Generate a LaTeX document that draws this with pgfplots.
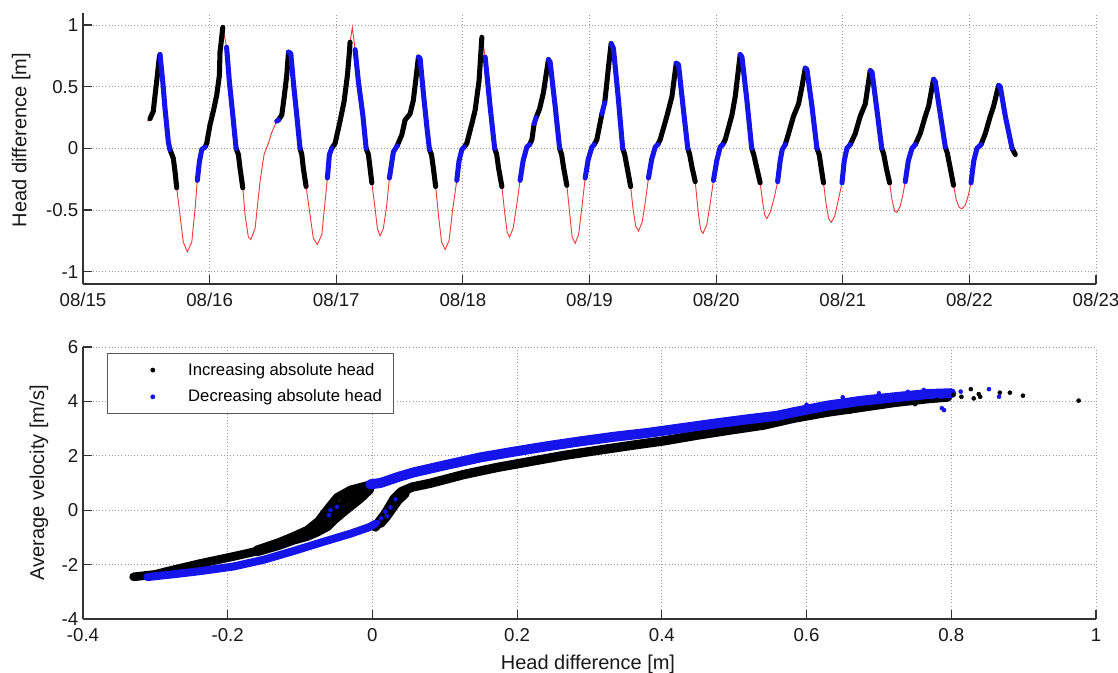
\documentclass[border=0pt]{standalone}
\usepackage{fontspec}
\setmainfont{Liberation Sans}
\usepackage{pgfplots}
\usepackage{pgfplotstable}
\pgfplotsset{compat=1.18}
\definecolor{mblue}{RGB}{20,20,235}
\definecolor{mred}{RGB}{240,60,60}

\pgfplotstableread{
t h c
15.508 0.22 0
15.529 0.24 0
15.529 0.24 1
15.555 0.30 1
15.569 0.43 1
15.587 0.59 1
15.603 0.74 1
15.608 0.76 1
15.608 0.76 2
15.630 0.54 2
15.648 0.32 2
15.674 0.05 2
15.687 -0.01 2
15.687 -0.01 1
15.713 -0.08 1
15.727 -0.19 1
15.740 -0.32 1
15.740 -0.32 0
15.766 -0.54 0
15.792 -0.76 0
15.824 -0.84 0
15.859 -0.76 0
15.885 -0.49 0
15.903 -0.26 0
15.903 -0.26 2
15.919 -0.11 2
15.938 -0.01 2
15.964 0.01 2
15.964 0.01 1
15.977 0.04 1
16.003 0.19 1
16.029 0.30 1
16.056 0.43 1
16.077 0.59 1
16.082 0.78 1
16.090 0.85 1
16.104 0.98 1
16.104 0.98 0
16.134 0.82 0
16.134 0.82 2
16.156 0.54 2
16.183 0.27 2
16.209 0.00 2
16.209 0.00 1
16.227 -0.05 1
16.240 -0.16 1
16.262 -0.32 1
16.262 -0.32 0
16.280 -0.54 0
16.306 -0.72 0
16.325 -0.74 0
16.359 -0.65 0
16.398 -0.27 0
16.430 -0.05 0
16.464 0.04 0
16.491 0.13 0
16.530 0.22 0
16.530 0.22 2
16.544 0.23 2
16.544 0.23 1
16.570 0.27 1
16.588 0.41 1
16.609 0.59 1
16.623 0.78 1
16.623 0.78 2
16.641 0.77 2
16.661 0.54 2
16.688 0.27 2
16.714 0.00 2
16.714 0.00 1
16.728 -0.05 1
16.740 -0.16 1
16.762 -0.31 1
16.762 -0.31 0
16.793 -0.54 0
16.819 -0.73 0
16.851 -0.78 0
16.886 -0.70 0
16.912 -0.43 0
16.930 -0.24 0
16.930 -0.24 2
16.946 -0.05 2
16.965 0.00 2
16.965 0.00 1
16.991 0.04 1
17.030 0.22 1
17.062 0.38 1
17.088 0.59 1
17.104 0.78 1
17.109 0.86 1
17.109 0.86 0
17.127 0.98 0
17.149 0.80 0
17.149 0.80 2
17.175 0.54 2
17.210 0.27 2
17.236 0.00 2
17.236 0.00 1
17.254 -0.05 1
17.267 -0.16 1
17.281 -0.28 1
17.281 -0.28 0
17.307 -0.49 0
17.325 -0.65 0
17.346 -0.71 0
17.372 -0.65 0
17.399 -0.46 0
17.420 -0.24 0
17.420 -0.24 2
17.451 -0.03 2
17.481 0.02 2
17.481 0.02 1
17.518 0.11 1
17.544 0.23 1
17.583 0.28 1
17.609 0.39 1
17.631 0.58 1
17.649 0.74 1
17.649 0.74 2
17.662 0.73 2
17.688 0.45 2
17.715 0.18 2
17.736 -0.01 2
17.736 -0.01 1
17.752 -0.05 1
17.767 -0.16 1
17.785 -0.31 1
17.785 -0.31 0
17.808 -0.55 0
17.832 -0.76 0
17.860 -0.82 0
17.891 -0.75 0
17.919 -0.50 0
17.952 -0.26 0
17.952 -0.26 2
17.970 -0.10 2
17.992 -0.01 2
18.010 0.01 2
18.010 0.01 1
18.031 0.04 1
18.071 0.20 1
18.097 0.31 1
18.128 0.55 1
18.150 0.90 1
18.150 0.90 0
18.164 0.82 0
18.176 0.74 0
18.176 0.74 2
18.215 0.34 2
18.251 0.00 2
18.251 0.00 1
18.267 -0.05 1
18.282 -0.16 1
18.308 -0.31 1
18.308 -0.31 0
18.330 -0.52 0
18.350 -0.68 0
18.368 -0.72 0
18.397 -0.65 0
18.425 -0.46 0
18.452 -0.26 0
18.452 -0.26 2
18.476 -0.10 2
18.505 0.01 2
18.527 0.03 2
18.527 0.03 1
18.545 0.07 1
18.563 0.20 1
18.563 0.20 2
18.579 0.25 2
18.579 0.25 1
18.606 0.32 1
18.636 0.45 1
18.658 0.60 1
18.676 0.72 1
18.676 0.72 2
18.689 0.70 2
18.729 0.34 2
18.764 0.00 2
18.764 0.00 1
18.780 -0.05 1
18.796 -0.16 1
18.821 -0.30 1
18.821 -0.30 0
18.843 -0.52 0
18.863 -0.72 0
18.887 -0.77 0
18.914 -0.70 0
18.942 -0.46 0
18.966 -0.24 0
18.966 -0.24 2
18.990 -0.09 2
19.019 0.01 2
19.037 0.03 2
19.037 0.03 1
19.058 0.07 1
19.098 0.28 1
19.098 0.28 2
19.120 0.37 2
19.120 0.37 1
19.136 0.52 1
19.150 0.66 1
19.171 0.85 1
19.171 0.85 2
19.189 0.81 2
19.229 0.39 2
19.262 0.00 2
19.262 0.00 1
19.278 -0.05 1
19.298 -0.16 1
19.325 -0.31 1
19.325 -0.31 0
19.345 -0.50 0
19.365 -0.63 0
19.387 -0.67 0
19.416 -0.60 0
19.440 -0.44 0
19.466 -0.24 0
19.466 -0.24 2
19.491 -0.09 2
19.519 0.01 2
19.539 0.03 2
19.539 0.03 1
19.558 0.07 1
19.611 0.26 1
19.651 0.42 1
19.685 0.69 1
19.685 0.69 2
19.703 0.68 2
19.742 0.31 2
19.776 0.00 2
19.776 0.00 1
19.791 -0.05 1
19.811 -0.16 1
19.835 -0.27 1
19.835 -0.27 0
19.859 -0.52 0
19.878 -0.66 0
19.896 -0.69 0
19.926 -0.62 0
19.953 -0.45 0
19.979 -0.26 0
19.979 -0.26 2
20.005 -0.10 2
20.032 0.01 2
20.052 0.03 2
20.052 0.03 1
20.072 0.07 1
20.125 0.27 1
20.151 0.42 1
20.190 0.76 1
20.190 0.76 2
20.204 0.74 2
20.243 0.39 2
20.281 0.00 2
20.281 0.00 1
20.297 -0.05 1
20.321 -0.16 1
20.348 -0.28 1
20.348 -0.28 0
20.368 -0.44 0
20.384 -0.54 0
20.401 -0.57 0
20.427 -0.52 0
20.459 -0.40 0
20.486 -0.27 0
20.486 -0.27 2
20.506 -0.10 2
20.522 -0.01 2
20.546 0.03 2
20.546 0.03 1
20.572 0.12 1
20.611 0.26 1
20.651 0.36 1
20.678 0.50 1
20.704 0.65 1
20.704 0.65 2
20.717 0.64 2
20.757 0.34 2
20.796 0.00 2
20.796 0.00 1
20.814 -0.05 1
20.830 -0.16 1
20.848 -0.28 1
20.848 -0.28 0
20.870 -0.46 0
20.889 -0.57 0
20.909 -0.60 0
20.937 -0.55 0
20.965 -0.42 0
20.994 -0.28 0
20.994 -0.28 2
21.012 -0.10 2
21.033 0.00 2
21.059 0.03 2
21.059 0.03 1
21.099 0.12 1
21.138 0.26 1
21.178 0.36 1
21.217 0.63 1
21.217 0.63 2
21.231 0.62 2
21.270 0.31 2
21.308 0.00 2
21.308 0.00 1
21.324 -0.05 1
21.344 -0.16 1
21.370 -0.28 1
21.370 -0.28 0
21.391 -0.43 0
21.411 -0.51 0
21.428 -0.52 0
21.454 -0.47 0
21.474 -0.38 0
21.494 -0.27 0
21.494 -0.27 2
21.518 -0.10 2
21.547 0.00 2
21.573 0.03 2
21.573 0.03 1
21.612 0.12 1
21.652 0.26 1
21.678 0.34 1
21.717 0.56 1
21.717 0.56 2
21.731 0.54 2
21.770 0.28 2
21.810 0.01 2
21.810 0.01 1
21.826 -0.04 1
21.849 -0.16 1
21.875 -0.30 1
21.875 -0.30 0
21.897 -0.42 0
21.920 -0.48 0
21.942 -0.49 0
21.968 -0.46 0
21.992 -0.38 0
22.013 -0.28 0
22.013 -0.28 2
22.035 -0.10 2
22.060 0.00 2
22.092 0.03 2
22.092 0.03 1
22.126 0.12 1
22.165 0.26 1
22.191 0.34 1
22.231 0.51 1
22.231 0.51 2
22.244 0.50 2
22.284 0.26 2
22.337 0.00 2
22.337 0.00 1
22.363 -0.05 1
}\ts

\pgfplotsset{
  mystyle/.style={
    scale only axis, width=759.75pt,
    enlargelimits=false,
    axis x line*=bottom, axis y line*=left,
    tick align=inside, major tick length=6.5pt,
    axis line style={black!80, line width=0.8pt},
    tick style={black!80, line width=0.8pt},
    grid=major, grid style={dotted, black!40, line width=0.6pt},
    tick label style={font=\fontsize{14}{16}\selectfont, text=black!90},
    xticklabel style={yshift=-3.5pt},
    label style={font=\fontsize{15}{18}\selectfont, text=black!90},
  }
}

\begin{document}
\begin{tikzpicture}
% ---------------- top: time series ----------------
\begin{axis}[mystyle,
  at={(0pt,251.25pt)}, anchor=south west, height=203.5pt,
  xmin=15, xmax=23, ymin=-1.1, ymax=1.1,
  xtick={15,16,17,18,19,20,21,22,23},
  xticklabels={08/15,08/16,08/17,08/18,08/19,08/20,08/21,08/22,08/23},
  ytick={-1,-0.5,0,0.5,1}, yticklabels={-1,-0.5,0,0.5,1},
  ylabel={Head difference [m]},
  ylabel style={at={(axis description cs:-0.061,0.53)}, anchor=center},
]
\addplot[mred, line width=0.7pt] table[x=t, y=h] {\ts};
\addplot[black, line width=3.8pt, line cap=round, line join=round, unbounded coords=jump,
  restrict expr to domain={\thisrow{c}}{0.5:1.5}] table[x=t, y=h] {\ts};
\addplot[mblue, line width=3.8pt, line cap=round, line join=round, unbounded coords=jump,
  restrict expr to domain={\thisrow{c}}{1.5:2.5}] table[x=t, y=h] {\ts};
\end{axis}

% ---------------- bottom: velocity vs head ----------------
\begin{axis}[mystyle,
  at={(0pt,0pt)}, anchor=south west, height=204pt,
  xmin=-0.4, xmax=1, ymin=-4, ymax=6,
  xtick={-0.4,-0.2,0,0.2,0.4,0.6,0.8,1},
  xticklabels={-0.4,-0.2,0,0.2,0.4,0.6,0.8,1},
  ytick={-4,-2,0,2,4,6}, yticklabels={-4,-2,0,2,4,6},
  xlabel={Head difference [m]},
  xlabel style={at={(axis description cs:0.4985,-0.165)}, anchor=center},
  ylabel={Average velocity [m/s]},
  ylabel style={at={(axis description cs:-0.0435,0.5)}, anchor=center},
  legend style={at={(rel axis cs:0.0237,0.978)}, anchor=north west,
    draw=black!65, line width=0.6pt, fill=white,
    font=\fontsize{12.5}{15}\selectfont,
    inner xsep=9pt, inner ysep=7.25pt, row sep=9.5pt,
    nodes={inner xsep=0pt, inner ysep=0pt}, /tikz/column sep=0pt},
  legend cell align=left,
  legend image code/.code={\path (0pt,0pt) (51pt,0pt); \draw[#1] plot coordinates {(24.75pt,0pt)};},
]
\addlegendimage{only marks, mark=*, mark size=1.5pt, black}
\addlegendentry{Increasing absolute head}
\addlegendimage{only marks, mark=*, mark size=1.5pt, mblue}
\addlegendentry{Decreasing absolute head}

% increasing absolute head (black), negative heads
\addplot[forget plot, black, line width=6.5pt, line cap=round, line join=round] coordinates {
(-0.330,-2.45) (-0.300,-2.36) (-0.284,-2.25) (-0.238,-1.96) (-0.192,-1.70) (-0.155,-1.48)};
\addplot[forget plot, black, line width=6pt, line cap=round, line join=round] coordinates {
(-0.160,-1.45) (-0.130,-1.18) (-0.109,-0.95) (-0.090,-0.72) (-0.075,-0.40) (-0.063,0.02)
(-0.049,0.48) (-0.030,0.76) (-0.003,0.95)};
\addplot[forget plot, black, line width=6pt, line cap=round, line join=round] coordinates {
(-0.160,-1.50) (-0.130,-1.25) (-0.109,-1.03) (-0.090,-0.85) (-0.075,-0.60) (-0.063,-0.30)
(-0.050,0.05) (-0.035,0.40) (-0.017,0.62) (-0.003,0.85)};
\addplot[forget plot, black, line width=6pt, line cap=round, line join=round] coordinates {
(-0.160,-1.55) (-0.130,-1.32) (-0.109,-1.12) (-0.090,-0.98) (-0.076,-0.82) (-0.062,-0.62)
(-0.053,-0.38) (-0.035,0.02) (-0.017,0.40) (-0.003,0.75)};
% increasing absolute head (black), positive heads
\addplot[forget plot, black, line width=7pt, line cap=round, line join=round] coordinates {
(0.004,-0.62) (0.010,-0.40) (0.018,-0.12) (0.024,0.15) (0.030,0.42) (0.040,0.68) (0.055,0.85)
(0.080,0.99) (0.126,1.31) (0.172,1.57) (0.218,1.79) (0.264,2.01) (0.311,2.20) (0.357,2.38)
(0.403,2.55) (0.449,2.76) (0.495,2.95) (0.541,3.13) (0.582,3.38) (0.628,3.60) (0.675,3.78)
(0.721,3.96) (0.767,4.10) (0.795,4.16)};
\addplot[forget plot, black, line width=6pt, line cap=round, line join=round] coordinates {
(0.012,-0.50) (0.020,-0.25) (0.028,0.05) (0.036,0.35) (0.046,0.60)};
% decreasing absolute head (blue)
\addplot[forget plot, mblue, line width=6pt, line cap=round, line join=round] coordinates {
(-0.311,-2.46) (-0.270,-2.34) (-0.238,-2.24) (-0.192,-2.07) (-0.150,-1.82) (-0.109,-1.50)
(-0.070,-1.18) (-0.030,-0.86) (-0.005,-0.63) (0.004,-0.50)};
\addplot[forget plot, mblue, line width=7.5pt, line cap=round, line join=round] coordinates {
(-0.003,0.95) (0.011,1.00) (0.039,1.25) (0.057,1.39) (0.103,1.67) (0.149,1.94) (0.195,2.15)
(0.241,2.35) (0.287,2.53) (0.334,2.70) (0.380,2.84) (0.426,3.01) (0.472,3.18) (0.518,3.34)
(0.559,3.47) (0.582,3.60) (0.628,3.84) (0.675,4.02) (0.721,4.15) (0.767,4.27) (0.800,4.30)};
% scattered points
\addplot[forget plot, only marks, mark=*, mark size=1.5pt, black] coordinates {
(0.803,4.24) (0.827,4.45) (0.840,4.17) (0.867,4.32) (0.881,4.32) (0.899,4.21) (0.976,4.03)
(0.814,4.17) (0.831,4.11) (0.838,4.27) (0.780,4.05) (0.750,3.90) (0.700,3.80) (0.660,3.62)};
\addplot[forget plot, only marks, mark=*, mark size=1.5pt, mblue] coordinates {
(0.012,-0.30) (0.018,-0.05) (0.025,0.10) (0.032,0.40) (0.020,-0.22) (0.008,-0.45)
(-0.058,0.00) (-0.049,0.12) (-0.060,-0.18)
(0.813,4.36) (0.852,4.45) (0.866,4.17) (0.787,3.75) (0.790,3.68) (0.799,4.38) (0.776,4.24)
(0.762,4.42) (0.700,4.30) (0.740,4.35) (0.650,4.15) (0.600,3.88)};
\end{axis}
\pgfresetboundingbox
\path (-62.25pt,-40.5pt) rectangle (776.25pt,464.25pt);
\end{tikzpicture}
\end{document}
